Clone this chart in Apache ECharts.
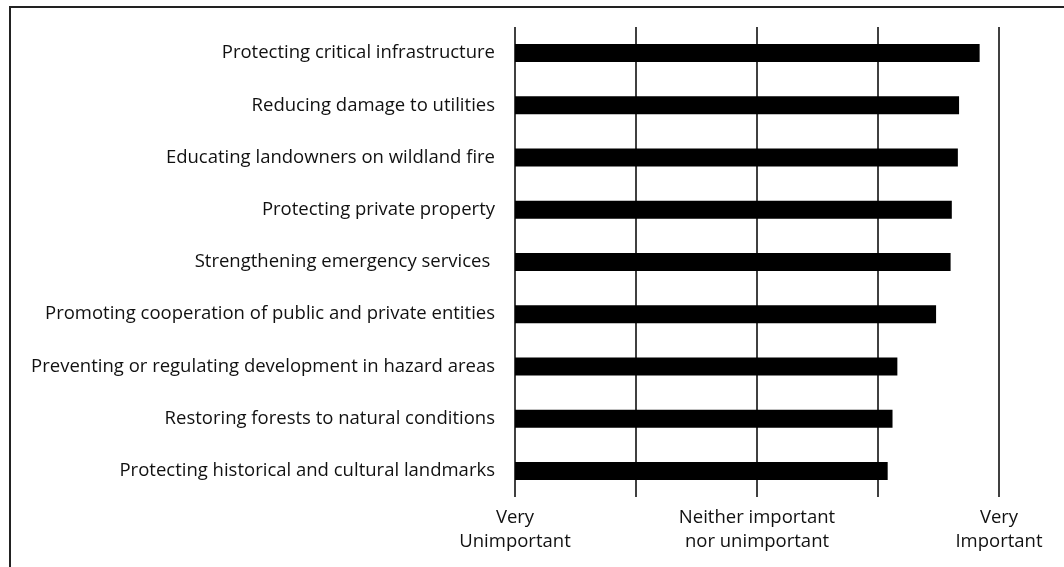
<!DOCTYPE html>
<html>
<head>
<meta charset="utf-8">
<script src="https://cdn.jsdelivr.net/npm/echarts@6/dist/echarts.min.js"></script>
<style>html,body{margin:0;padding:0;background:#fff;}#c{width:1064px;height:567px;}</style>
</head>
<body>
<div id="c"></div>
<script>
const categories = [
  'Protecting critical infrastructure',
  'Reducing damage to utilities',
  'Educating landowners on wildland fire',
  'Protecting private property',
  'Strengthening emergency services ',
  'Promoting cooperation of public and private entities',
  'Preventing or regulating development in hazard areas',
  'Restoring forests to natural conditions',
  'Protecting historical and cultural landmarks'
];
const importance = [4.84, 4.67, 4.66, 4.61, 4.60, 4.48, 4.16, 4.12, 4.08];
const tickLabels = ['Very\nUnimportant', '', 'Neither important\nnor unimportant', '', 'Very\nImportant'];
const tickValues = [1, 2, 3, 4, 5];

const chart = echarts.init(document.getElementById('c'));
const FONT = 'Open Sans';
chart.setOption({
  animation: false,
  backgroundColor: '#fff',
  graphic: [{
    type: 'rect', silent: true,
    shape: { x: 10, y: 7, width: 1200, height: 700 },
    style: { fill: 'none', stroke: '#222', lineWidth: 2 }
  }],
  grid: { left: 515, right: 65, top: 27, bottom: 70, containLabel: false },
  xAxis: {
    type: 'value', min: 1, max: 5, interval: 1,
    axisLine: { show: false }, axisTick: { show: false },
    splitLine: { show: true, lineStyle: { color: '#000', width: 1.5 } },
    axisLabel: {
      show: true, showMinLabel: true, showMaxLabel: true,
      margin: 9, color: '#111', fontFamily: FONT, fontSize: 18.5, lineHeight: 23.5,
      formatter: function (v) { const i = tickValues.indexOf(Math.round(v)); return i >= 0 ? tickLabels[i] : ''; }
    }
  },
  yAxis: {
    type: 'category', data: categories, inverse: true,
    axisLine: { show: false }, axisTick: { show: false }, splitLine: { show: false },
    axisLabel: { margin: 20, color: '#111', fontFamily: FONT, fontSize: 18.5 }
  },
  series: [{
    type: 'bar', data: importance, barWidth: 18,
    itemStyle: { color: '#000' }
  }]
});
</script>
</body>
</html>
